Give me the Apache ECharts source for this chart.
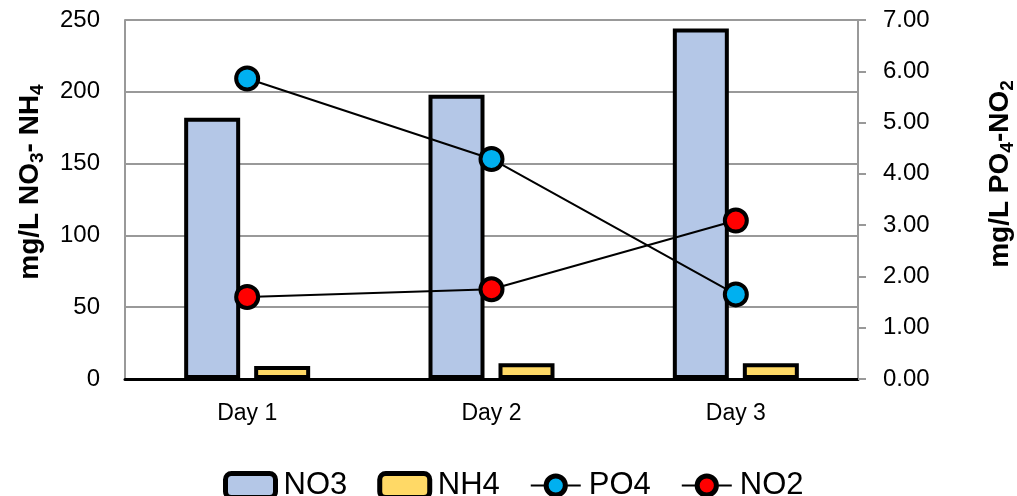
<!DOCTYPE html>
<html>
<head>
<meta charset="utf-8">
<script src="https://cdn.jsdelivr.net/npm/echarts@6/dist/echarts.min.js"></script>
<style>
  html, body { margin: 0; padding: 0; background: #ffffff; }
  #chart { width: 1017px; height: 496px; }
</style>
</head>
<body>
<div id="chart"></div>
<script>
// Sampling days
const days = ['Day 1', 'Day 2', 'Day 3'];

// Nitrogen species, mg/L (left axis)
const no3 = [182, 198, 244];
const nh4 = [9, 11, 11];

// Phosphate and nitrite, mg/L (right axis)
const po4 = [5.86, 4.29, 1.65];
const no2 = [1.60, 1.75, 3.09];

// Series names shown in the legend
const seriesNames = ['NO3', 'NH4', 'PO4', 'NO2'];

const FONT = '"Liberation Sans", Arial, sans-serif';
const GRID_GRAY = '#999999';

const chart = echarts.init(document.getElementById('chart'), null, { renderer: 'canvas' });

const titleRich = {
  a: { fontSize: 28, fontWeight: 'bold', fontFamily: FONT, color: '#000', lineHeight: 31, verticalAlign: 'top' },
  s: { fontSize: 19, fontWeight: 'bold', fontFamily: FONT, color: '#000', padding: [12, 0, 0, 0], verticalAlign: 'bottom' }
};

chart.setOption({
  animation: false,
  backgroundColor: '#ffffff',
  textStyle: { fontFamily: FONT },
  grid: { left: 125, right: 159, top: 20, bottom: 117, containLabel: false },
  legend: {
    data: seriesNames,
    left: 223,
    top: 470,
    padding: 0,
    itemWidth: 50,
    itemHeight: 24,
    itemGap: 30,
    textStyle: { fontSize: 31, color: '#000', fontFamily: FONT, padding: [0, 0, 12, 3] },
    itemStyle: { borderWidth: 5, borderColor: '#000' }
  },
  xAxis: {
    type: 'category',
    data: days,
    axisLine: { show: true, lineStyle: { color: '#000', width: 3 } },
    axisTick: { show: false },
    axisLabel: { fontSize: 23, color: '#000', margin: 23, fontFamily: FONT }
  },
  yAxis: [
    {
      type: 'value',
      min: 0, max: 250, interval: 50,
      axisLine: { show: true, lineStyle: { color: GRID_GRAY, width: 2 } },
      axisTick: { show: false },
      splitLine: { show: true, lineStyle: { color: GRID_GRAY, width: 2 } },
      axisLabel: { fontSize: 24, color: '#000', margin: 25, fontFamily: FONT }
    },
    {
      type: 'value',
      min: 0, max: 7, interval: 1,
      position: 'right',
      axisLine: { show: true, lineStyle: { color: GRID_GRAY, width: 2 } },
      axisTick: { show: true, inside: false, length: 8, lineStyle: { color: GRID_GRAY, width: 2 } },
      splitLine: { show: false },
      axisLabel: { fontSize: 24, color: '#000', margin: 25, fontFamily: FONT,
        formatter: v => v.toFixed(2) }
    }
  ],
  graphic: [
    {
      type: 'text', x: 32, y: 182, rotation: Math.PI / 2,
      style: { text: '{a|mg/L NO}{s|3}{a|- NH}{s|4}', rich: titleRich, align: 'center', verticalAlign: 'middle' }
    },
    {
      type: 'text', x: 1002, y: 174, rotation: Math.PI / 2,
      style: { text: '{a|mg/L PO}{s|4}{a|-NO}{s|2}', rich: titleRich, align: 'center', verticalAlign: 'middle' }
    }
  ],
  series: [
    {
      name: 'NO3', type: 'bar', yAxisIndex: 0, data: no3,
      barWidth: 56, barGap: '25%',
      itemStyle: { color: '#B4C7E7', borderColor: '#000', borderWidth: 4 }
    },
    {
      name: 'NH4', type: 'bar', yAxisIndex: 0, data: nh4,
      barWidth: 56, barGap: '25%',
      itemStyle: { color: '#FFD966', borderColor: '#000', borderWidth: 4 }
    },
    {
      name: 'PO4', type: 'line', yAxisIndex: 1, data: po4, z: 5,
      symbol: 'circle', symbolSize: 22,
      lineStyle: { color: '#000', width: 2 },
      itemStyle: { color: '#00B0F0', borderColor: '#000', borderWidth: 4 }
    },
    {
      name: 'NO2', type: 'line', yAxisIndex: 1, data: no2, z: 5,
      symbol: 'circle', symbolSize: 22,
      lineStyle: { color: '#000', width: 2 },
      itemStyle: { color: '#FF0000', borderColor: '#000', borderWidth: 4 }
    }
  ]
});
</script>
</body>
</html>
